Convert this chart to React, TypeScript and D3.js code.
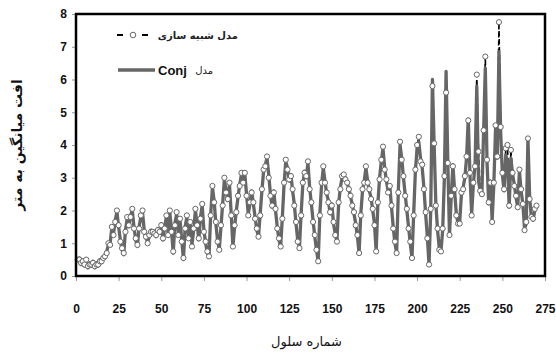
import { useEffect, useRef } from 'react';
import * as d3 from 'd3';

// cell numbers run 1..270, one value per cell
const conjValues: number[] = [
    0.45, 0.55, 0.35, 0.5, 0.3, 0.45, 0.25, 0.4, 0.3, 0.45,
    0.25, 0.4, 0.3, 0.5, 0.4, 0.6, 0.55, 0.75, 0.95, 1.0,
    1.45, 1.3, 1.7, 1.95, 1.5, 1.1, 0.8, 0.65, 1.4, 1.75,
    1.5, 1.85, 2.0, 1.5, 1.1, 0.9, 1.5, 1.8, 1.95, 1.4,
    1.15, 1.05, 1.2, 1.4, 1.3, 1.35, 1.2, 1.45, 1.3, 1.6,
    1.1, 1.5, 1.8, 1.3, 1.95, 1.4, 0.7, 1.6, 1.9, 1.3,
    1.7, 1.1, 0.5, 1.5, 1.8, 1.2, 1.6, 0.95, 1.4, 2.0,
    1.6, 1.1, 1.8, 2.15, 1.4, 1.0, 0.7, 0.6, 1.9, 2.7,
    2.3, 1.6, 1.1, 0.8, 1.5, 2.2, 2.95, 2.6, 2.3, 2.8,
    1.9, 0.9, 1.5, 2.0, 2.4, 2.8, 3.1, 2.9, 3.1, 2.5,
    1.9, 2.2, 2.6, 2.2, 1.8, 1.4, 1.2, 1.9, 2.6, 3.2,
    3.4, 3.6, 3.1, 2.5, 2.1, 2.6, 2.0, 1.5, 1.1, 0.9,
    1.8, 2.8, 3.5, 3.3, 2.9, 3.1, 2.6, 2.2, 1.6, 1.1,
    0.85, 1.9, 2.8, 3.2, 3.0, 3.45, 2.7, 2.2, 1.7, 1.2,
    0.8, 0.45, 1.9, 2.8, 3.3, 2.9, 2.5, 2.3, 1.9, 2.2,
    1.6, 1.3, 1.05, 2.2, 2.7, 3.0, 3.05, 3.0, 2.8, 2.7,
    2.4, 2.2, 1.9, 1.6, 1.2, 0.7, 1.9, 2.6, 2.9, 3.3,
    2.9, 2.6, 2.4, 2.0, 1.6, 0.75, 2.2, 3.0, 3.5, 3.9,
    3.3, 2.9, 2.6, 2.75, 2.1, 1.5, 1.0, 0.7, 2.6, 4.0,
    3.6, 3.0, 2.5, 2.0, 1.5, 1.0, 0.55, 1.9, 3.2, 3.9,
    4.1, 3.6, 3.3, 2.7, 1.9, 1.2, 0.35, 2.0, 6.0, 4.0,
    2.2, 1.4, 0.85, 0.75, 1.4, 3.0, 6.25, 3.5, 1.25, 2.4,
    3.4, 2.6, 1.9, 1.6, 1.65, 2.5, 2.7, 3.0, 3.6, 4.8,
    3.1, 1.9, 2.8, 3.4, 5.8, 2.9, 2.6, 2.55, 4.4, 6.35,
    3.5, 2.2, 2.9, 1.7, 2.8, 4.5, 3.6, 6.85, 4.4, 3.1,
    2.6, 3.7, 3.5, 2.1, 3.6, 3.1, 2.8, 2.4, 2.1, 3.2,
    2.6, 2.2, 1.45, 1.6, 4.2, 2.4, 1.8, 1.7, 2.0, 2.1,
];

const simValues: number[] = [
    0.5, 0.5, 0.4, 0.45, 0.35, 0.5, 0.3, 0.35, 0.35, 0.4,
    0.3, 0.35, 0.35, 0.45, 0.45, 0.55, 0.6, 0.7, 1.0, 0.95,
    1.5, 1.25, 1.65, 2.0, 1.55, 1.05, 0.85, 0.7, 1.35, 1.8,
    1.55, 1.8, 2.05, 1.45, 1.15, 0.95, 1.45, 1.85, 2.0, 1.35,
    1.2, 1.0, 1.25, 1.35, 1.35, 1.3, 1.25, 1.4, 1.35, 1.55,
    1.15, 1.45, 1.85, 1.25, 2.0, 1.35, 0.75, 1.55, 1.95, 1.25,
    1.75, 1.05, 0.55, 1.45, 1.85, 1.15, 1.65, 0.9, 1.45, 2.05,
    1.55, 1.15, 1.75, 2.2, 1.35, 1.05, 0.75, 0.6, 1.85, 2.75,
    2.25, 1.65, 1.05, 0.8, 1.55, 2.15, 3.0, 2.55, 2.35, 2.85,
    1.85, 0.9, 1.55, 1.95, 2.45, 2.75, 3.15, 2.85, 3.15, 2.45,
    1.85, 2.25, 2.55, 2.25, 1.75, 1.45, 1.2, 1.85, 2.65, 3.25,
    3.35, 3.65, 3.0, 2.45, 2.15, 2.55, 2.05, 1.45, 1.15, 0.9,
    1.75, 2.85, 3.55, 3.25, 2.95, 3.05, 2.65, 2.15, 1.65, 1.05,
    0.85, 1.85, 2.85, 3.15, 3.05, 3.5, 2.65, 2.25, 1.65, 1.25,
    0.8, 0.45, 1.85, 2.85, 3.35, 2.85, 2.55, 2.25, 1.95, 2.15,
    1.65, 1.25, 1.05, 2.25, 2.65, 3.05, 3.1, 2.95, 2.85, 2.65,
    2.45, 2.15, 1.95, 1.55, 1.25, 0.7, 1.85, 2.65, 2.85, 3.35,
    2.85, 2.65, 2.35, 2.05, 1.55, 0.75, 2.25, 2.95, 3.55, 3.95,
    3.25, 2.95, 2.55, 2.75, 2.15, 1.45, 1.05, 0.7, 2.55, 4.1,
    3.55, 3.05, 2.45, 2.05, 1.45, 1.05, 0.55, 1.85, 3.25, 4.0,
    4.25, 3.5, 3.4, 2.65, 1.95, 1.15, 0.35, 2.05, 5.8, 4.05,
    2.15, 1.45, 0.8, 0.75, 1.45, 3.05, 5.6, 3.45, 1.25, 2.45,
    3.35, 2.65, 1.85, 1.6, 1.6, 2.55, 2.65, 3.05, 3.65, 4.75,
    3.15, 1.85, 2.85, 3.35, 6.15, 3.8, 2.6, 2.5, 4.45, 6.7,
    3.55, 2.25, 2.85, 1.65, 2.85, 4.6, 3.65, 7.75, 4.55, 3.15,
    2.65, 3.9, 4.0, 2.15, 3.85, 3.15, 2.75, 2.45, 2.1, 3.25,
    2.65, 2.2, 1.4, 1.65, 4.2, 2.35, 1.8, 1.75, 2.05, 2.15,
];

const xTicks = [0, 25, 50, 75, 100, 125, 150, 175, 200, 225, 250, 275];
const yTicks = [0, 1, 2, 3, 4, 5, 6, 7, 8];

const simLabel = 'مدل شبیه سازی';
const conjLabel = 'مدل';
const xTitle = 'شماره سلول';
const yTitle = 'افت میانگین به متر';

export default function App() {
    const svgRef = useRef<SVGSVGElement>(null);

    useEffect(() => {
        const W = 556;
        const H = 358;
        const margin = { top: 14, right: 11, bottom: 82, left: 76 };
        const width = W - margin.left - margin.right;
        const height = H - margin.top - margin.bottom;

        const svg = d3.select(svgRef.current).attr('width', W).attr('height', H);
        svg.selectAll('*').remove();

        const g = svg.append('g').attr('transform', `translate(${margin.left},${margin.top})`);

        const x = d3.scaleLinear().domain([0, 275]).range([0, width]);
        const y = d3.scaleLinear().domain([0, 8]).range([height, 0]);

        const conj = conjValues.map((v, i) => ({ cell: i + 1, v }));
        const sim = simValues.map((v, i) => ({ cell: i + 1, v }));

        const line = d3
            .line<{ cell: number; v: number }>()
            .x((d) => x(d.cell))
            .y((d) => y(d.v));

        // X axis
        const xAxis = g
            .append('g')
            .attr('transform', `translate(0,${height})`)
            .call(d3.axisBottom(x).tickValues(xTicks).tickSize(5).tickPadding(23));
        xAxis.select('.domain').remove();
        xAxis.selectAll('line').attr('stroke', '#999');
        xAxis
            .selectAll('text')
            .style('font-family', '"Liberation Sans", Arial, sans-serif')
            .style('font-size', '12px')
            .style('font-weight', 'bold')
            .attr('fill', '#111');

        // Y axis
        const yAxis = g.append('g').call(d3.axisLeft(y).tickValues(yTicks).tickSize(4).tickPadding(5));
        yAxis.select('.domain').remove();
        yAxis.selectAll('line').attr('stroke', '#999');
        yAxis
            .selectAll('text')
            .style('font-family', '"Liberation Sans", Arial, sans-serif')
            .style('font-size', '12px')
            .style('font-weight', 'bold')
            .attr('fill', '#111');

        // series
        g.append('path')
            .datum(sim)
            .attr('fill', 'none')
            .attr('stroke', '#000')
            .attr('stroke-width', 1.6)
            .attr('stroke-dasharray', '5,3')
            .attr('d', line);

        g.append('path')
            .datum(conj)
            .attr('fill', 'none')
            .attr('stroke', '#666')
            .attr('stroke-width', 3.3)
            .attr('stroke-linejoin', 'round')
            .attr('d', line);

        g.selectAll('.sim-dot')
            .data(sim)
            .enter()
            .append('circle')
            .attr('class', 'sim-dot')
            .attr('cx', (d) => x(d.cell))
            .attr('cy', (d) => y(d.v))
            .attr('r', 2.6)
            .attr('fill', '#fff')
            .attr('stroke', '#666')
            .attr('stroke-width', 1);

        // frame
        g.append('rect')
            .attr('width', width)
            .attr('height', height)
            .attr('fill', 'none')
            .attr('stroke', '#000')
            .attr('stroke-width', 2.5);

        // legend
        const legend = svg.append('g');
        legend
            .append('line')
            .attr('x1', 117).attr('x2', 123).attr('y1', 35).attr('y2', 35)
            .attr('stroke', '#000')
            .attr('stroke-width', 2);
        legend
            .append('line')
            .attr('x1', 142).attr('x2', 148).attr('y1', 35).attr('y2', 35)
            .attr('stroke', '#000')
            .attr('stroke-width', 2);
        legend
            .append('circle')
            .attr('cx', 133).attr('cy', 35).attr('r', 2.8)
            .attr('fill', '#fff')
            .attr('stroke', '#666');
        legend
            .append('text')
            .attr('x', 238).attr('y', 39)
            .attr('text-anchor', 'end')
            .style('font-family', '"DejaVu Sans", sans-serif')
            .style('font-size', '10px')
            .style('font-weight', 'bold')
            .attr('fill', '#222')
            .text(simLabel);

        legend
            .append('line')
            .attr('x1', 118).attr('x2', 155).attr('y1', 70).attr('y2', 70)
            .attr('stroke', '#666')
            .attr('stroke-width', 3.3);
        legend
            .append('text')
            .attr('x', 158).attr('y', 75)
            .style('font-family', '"Liberation Sans", Arial, sans-serif')
            .style('font-size', '13px')
            .style('font-weight', 'bold')
            .attr('fill', '#111')
            .text('Conj');
        legend
            .append('text')
            .attr('x', 213).attr('y', 74)
            .attr('text-anchor', 'end')
            .style('font-family', '"DejaVu Sans", sans-serif')
            .style('font-size', '10px')
            .attr('fill', '#222')
            .text(conjLabel);

        // axis titles
        svg.append('text')
            .attr('x', margin.left + width / 2 - 4)
            .attr('y', 346)
            .attr('text-anchor', 'middle')
            .style('font-family', '"DejaVu Sans", sans-serif')
            .style('font-size', '13px')
            .attr('fill', '#111')
            .text(xTitle);

        svg.append('text')
            .attr('transform', `translate(22,${margin.top + height / 2}) rotate(-90)`)
            .attr('text-anchor', 'middle')
            .style('font-family', '"DejaVu Sans", sans-serif')
            .style('font-size', '14px')
            .style('font-weight', 'bold')
            .attr('fill', '#111')
            .text(yTitle);
    }, []);

    return (
        <div style={{ position: 'absolute', left: 0, top: 0 }}>
            <svg ref={svgRef}></svg>
        </div>
    );
}
